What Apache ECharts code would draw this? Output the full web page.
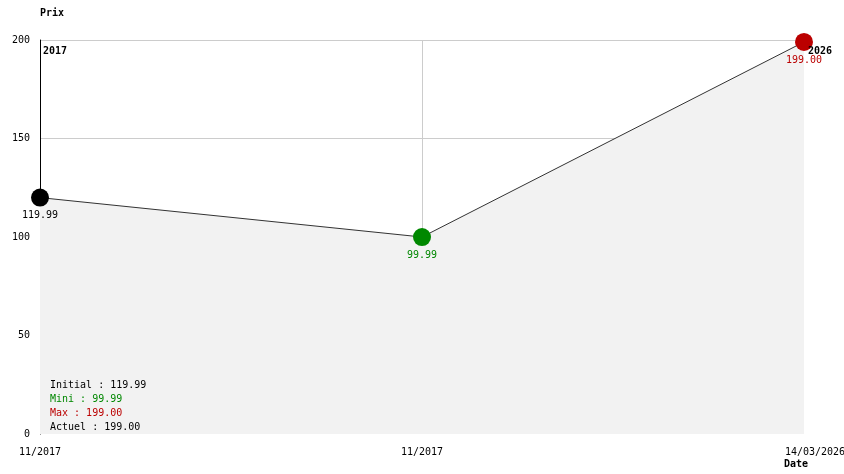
<!DOCTYPE html>
<html>
<head>
<meta charset="utf-8">
<script src="https://cdn.jsdelivr.net/npm/echarts@6/dist/echarts.min.js"></script>
<style>
  html, body { margin: 0; padding: 0; background: #fff; }
  #chart { width: 844px; height: 474px; }
</style>
</head>
<body>
<div id="chart"></div>
<script>
// données
const dates = ['11/2017', '11/2017', '14/03/2026']
const prix = [119.99, 99.99, 199.0]
const pointColors = ['#000000', '#008800', '#bb0000']
const yearLabels = ['2017', '2026']
const summary = [
  { label: 'Initial', value: 119.99, color: '#000000' },
  { label: 'Mini', value: 99.99, color: '#008800' },
  { label: 'Max', value: 199.0, color: '#bb0000' },
  { label: 'Actuel', value: 199.0, color: '#000000' },
]

const FONT = '"DejaVu Sans Mono", "Liberation Mono", monospace'

const chart = echarts.init(document.getElementById('chart'))

const seriesData = prix.map((v, i) => ({
  value: v,
  itemStyle: { color: pointColors[i] },
  label: { color: pointColors[i] },
}))

// petit résumé en bas à gauche
const summaryText = summary.map((s, i) => ({
  type: 'text',
  left: 50,
  top: 380 + i * 14,
  style: {
    text: s.label + ' : ' + s.value.toFixed(2),
    fill: s.color,
    font: '10px ' + FONT,
  },
  z: 10,
}))

const option = {
  animation: false,
  backgroundColor: '#fff',
  grid: { left: 40, right: 40, top: 40, bottom: 40, outerBoundsMode: 'none' },
  xAxis: {
    type: 'category',
    data: dates,
    boundaryGap: false,
    name: 'Date',
    nameLocation: 'end',
    nameGap: -20,
    nameTextStyle: {
      color: '#000',
      fontFamily: FONT,
      fontWeight: 'bold',
      fontSize: 10,
      align: 'left',
      verticalAlign: 'top',
      padding: [25, 0, 0, 0],
    },
    axisLine: { show: false },
    axisTick: { show: false },
    axisLabel: {
      color: '#000',
      fontFamily: FONT,
      fontSize: 10,
      margin: 13,
      // la dernière date est décalée vers la droite
      formatter: (v, i) => (i === dates.length - 1 ? '{last|' + v + '}' : v),
      rich: { last: { padding: [0, 0, 0, 22], fontFamily: FONT, fontSize: 10, color: '#000' } },
    },
    splitLine: {
      show: true,
      interval: (idx) => idx === 1,
      lineStyle: { color: '#cccccc', width: 1 },
    },
  },
  yAxis: {
    type: 'value',
    min: 0,
    max: 200,
    interval: 50,
    name: 'Prix',
    nameGap: 22,
    nameTextStyle: {
      color: '#000',
      fontFamily: FONT,
      fontWeight: 'bold',
      fontSize: 10,
      align: 'left',
    },
    axisLine: { show: true, lineStyle: { color: '#000', width: 1 } },
    axisTick: { show: false },
    axisLabel: { color: '#000', fontFamily: FONT, fontSize: 10, margin: 10 },
    splitLine: { show: true, showMinLine: false, lineStyle: { color: '#cccccc', width: 1 } },
  },
  series: [
    {
      type: 'line',
      data: seriesData,
      symbol: 'circle',
      symbolSize: 18,
      lineStyle: { color: '#333333', width: 1 },
      areaStyle: { color: '#f2f2f2', opacity: 1 },
      label: {
        show: true,
        position: 'bottom',
        distance: 4,
        fontFamily: FONT,
        fontSize: 10,
        formatter: (p) => p.value.toFixed(2),
      },
      z: 3,
    },
  ],
  graphic: [
    {
      type: 'text',
      left: 43,
      top: 46,
      style: { text: yearLabels[0], fill: '#000', font: 'bold 10px ' + FONT },
      z: 10,
    },
    {
      type: 'text',
      left: 808,
      top: 46,
      style: { text: yearLabels[1], fill: '#000', font: 'bold 10px ' + FONT },
      z: 10,
    },
    ...summaryText,
  ],
}

chart.setOption(option)
</script>
</body>
</html>
